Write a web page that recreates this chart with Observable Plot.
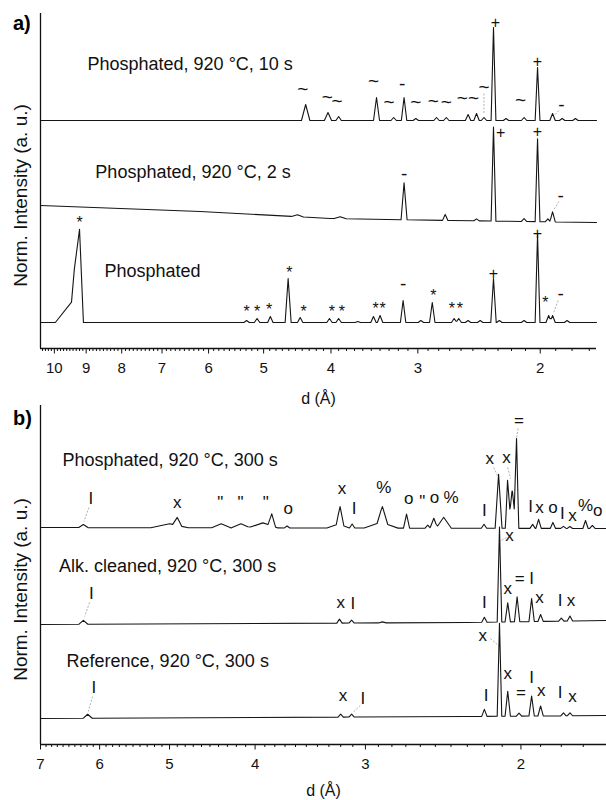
<!DOCTYPE html>
<html><head><meta charset="utf-8">
<script src="https://cdn.jsdelivr.net/npm/d3@7"></script>
<script src="https://cdn.jsdelivr.net/npm/@observablehq/plot@0.6"></script>
<style>
body{margin:0;background:#fff;}
#wrap{position:relative;width:606px;height:800px;font-family:"Liberation Sans",Arial,sans-serif;}
#pa,#pb{position:absolute;left:0;}
#pa{top:0;} #pb{top:400px;}
.tag{position:absolute;font-weight:bold;font-size:20px;line-height:20px;}
</style></head><body>
<div id="wrap"><div id="pa"></div><div id="pb"></div>
<div class="tag" style="left:13px;top:13px">a)</div>
<div class="tag" style="left:13px;top:408px">b)</div>
</div>
<script>
// ---------- axis ticks ----------
const dTicksA = [10, 9, 8, 7, 6, 5, 4, 3, 2];
const dTicksB = [7, 6, 5, 4, 3, 2];
const domainA = [10.47, 1.66];
const domainB = [7, 1.6];
const xLabel = "d (Å)";
const yLabel = "Norm. Intensity (a. u.)";

// ---------- panel a: series ----------
const namesA = ["Phosphated, 920 °C, 10 s", "Phosphated, 920 °C, 2 s", "Phosphated"];
const nameDA = [8.96, 8.73, 8.47];
const nameYA = [284, 176, 77];
// baselines [d, intensity]
const baseA1 = [[10.47, 228], [1.66, 228]];
const baseA2 = [[10.47, 143], [6.17, 137], [4.01, 130], [2.69, 128], [1.66, 126]];
const baseA3 = [[10.47, 26], [1.66, 26]];
// peaks [d, height, half width (high-d side), half width (low-d side)]
const peaksA1 = [[4.35,16,0.014],[4.04,8,0.012],[3.90,4],[3.44,23,0.01],[3.25,3],[3.14,23,0.009],[3.02,2],[2.82,3],[2.73,3],[2.54,6],[2.47,7],[2.41,3],[2.335,93,0.008],[2.24,2],[2.11,3],[2.018,53,0.008],[1.92,7],[1.86,2],[1.78,2]];
const peaksA2 = [[4.47,2,0.02],[3.88,2,0.02],[3.14,37,0.01],[2.74,6],[2.47,2],[2.335,94,0.008],[2.11,3],[2.018,83,0.008],[1.95,3],[1.92,10]];
const peaksA3 = [[9.20,83,0.027,0.013],[9.359,24,0.065,0.03],[5.29,2],[5.11,4],[4.89,6],[4.61,44,0.01],[4.43,5],[4.02,4],[3.90,4],[3.66,1],[3.475,6],[3.40,7],[3.15,22],[2.97,2],[2.86,20],[2.66,4],[2.62,4],[2.54,2],[2.44,2],[2.335,44],[2.29,2],[2.11,2],[2.018,88,0.008],[1.945,7],[1.92,7],[1.83,2]];
// phase markers [symbol, d, intensity]
const labelsA = [
 ["~",4.39,260],["~",4.05,252],["~",3.92,248],["~",3.475,268],["~",3.30,247],["-",3.16,265],["~",3.02,247],["~",2.85,248],["~",2.73,247],["~",2.59,251],["~",2.495,251],["~",2.41,262],["+",2.32,326],["~",2.135,249],["+",2.018,287],["-",1.865,244],
 ["+",2.28,216],["+",2.018,217],["-",3.14,175],["-",1.87,153],
 ["*",9.20,130],["*",5.29,41],["*",5.11,41],["*",4.91,43],["*",4.59,80],["*",4.38,41],["*",3.99,41],["*",3.86,41],["*",3.45,44],["*",3.37,44],["-",3.15,65],["*",2.85,57],["*",2.68,44],["*",2.61,44],["+",2.335,75],["+",2.018,115],["*",1.966,50],["-",1.87,55]
];
const leadersA = [[2.41,255,2.41,234],[1.88,238,1.91,233],[1.88,147,1.915,138],[1.885,48,1.915,35]];

// ---------- panel b: series ----------
const namesB = ["Phosphated, 920 °C, 300 s", "Alk. cleaned, 920 °C, 300 s", "Reference, 920 °C, 300 s"];
const nameDB = [6.61, 6.67, 6.54];
const nameYB = [284, 178, 83];
const baseB1 = [[7, 217], [1.6, 216]];
const baseB2 = [[7, 120], [2.3, 122], [1.6, 124]];
const baseB3 = [[7, 26], [2.3, 28], [1.6, 29]];
const peaksB1 = [[6.26,3,0.012],[5.0,4,0.05],[4.90,8,0.012],[4.37,4,0.025],[4.15,4,0.025],[3.92,5,0.04],[3.83,12,0.01],[3.68,2],[3.22,4,0.03],[3.205,18,0.01],[3.106,4],[2.88,6,0.045],[2.87,16,0.014],[2.695,14,0.008],[2.55,3],[2.51,10,0.01],[2.446,11,0.02],[2.202,4],[2.12,54,0.009],[2.047,30,0.016],[2.071,40,0.006],[2.045,9,0.005],[2.023,82,0.006],[1.94,4],[1.91,9],[1.84,6],[1.79,2],[1.76,2],[1.69,8],[1.66,3]];
const peaksB2 = [[6.26,4,0.012],[3.21,4],[3.11,3],[2.87,1,0.01],[2.20,5],[2.115,95,0.006],[2.07,19],[2.02,25],[1.945,23],[1.90,7],[1.80,3],[1.76,5]];
const peaksB3 = [[6.19,4,0.012],[3.20,3],[3.11,3],[2.20,7],[2.115,93,0.006],[2.07,25],[2.01,3],[1.945,20],[1.90,10],[1.79,3],[1.76,3]];
const labelsB = [
 ["I",6.14,246],["x",4.90,242],['"',4.38,246],['"',4.155,246],['"',3.89,246],["o",3.67,236],["x",3.19,256],["I",3.09,236],["%",2.86,257],["o",2.68,246],['"',2.586,247],["o",2.506,247],["%",2.40,247],["I",2.20,234],["x",2.17,286],["x",2.077,287],["=",2.01,324],["I",1.95,238],["x",1.906,237],["o",1.84,237],["I",1.795,231],["x",1.748,229],["%",1.69,239],["o",1.637,234],
 ["I",6.13,151],["x",3.20,142],["I",3.10,141],["I",2.20,142],["x",2.06,209],["x",2.07,156],["=",2.006,166],["I",1.945,166],["x",1.906,147],["I",1.806,144],["x",1.755,144],
 ["I",6.09,57],["x",3.18,49],["I",3.02,46],["I",2.19,49],["x",2.21,109],["x",2.07,71],["I",1.945,67],["=",2.00,52],["x",1.897,54],["I",1.806,52],["x",1.748,48]
];
const leadersB = [[6.17,237,6.25,223],[2.015,316,2.023,306],[2.147,277,2.124,268],[2.07,277,2.055,266],[2.077,207,2.115,203],[2.166,106,2.12,99],[3.04,39,3.10,32],[6.16,142,6.24,128],[6.11,48,6.18,33]];

// ---------- build polylines from read baselines + peaks ----------
function baseAt(base, d) {
  for (let i = 0; i < base.length - 1; i++) {
    const [d0, y0] = base[i], [d1, y1] = base[i + 1];
    if (d <= d0 && d >= d1) { const t = Math.log(d0 / d) / Math.log(d0 / d1); return y0 + t * (y1 - y0); }
  }
  return d > base[0][0] ? base[0][1] : base[base.length - 1][1];
}
function contrib(d, [pd, h, wl, wr], w0) {
  const L = wl ?? w0, R = wr ?? L;
  const t = d >= pd ? Math.log(d / pd) / Math.log(1 + L) : Math.log(pd / d) / Math.log(1 + R);
  return Math.max(0, 1 - t) * h;
}
function trace(name, base, peaks, w0) {
  const dMax = base[0][0], dMin = base[base.length - 1][0];
  const ds = new Set(base.map(b => b[0]));
  for (const [d, h, wl, wr] of peaks) { const L = wl ?? w0, R = wr ?? L; ds.add(d * (1 + L)); ds.add(d); ds.add(d / (1 + R)); }
  return [...ds].filter(d => d <= dMax && d >= dMin).sort((a, b) => b - a).map(d => ({
    name, d, y: baseAt(base, d) + d3.sum(peaks, p => contrib(d, p, w0))
  }));
}
const dataA = [...trace(namesA[0], baseA1, peaksA1, 0.009), ...trace(namesA[1], baseA2, peaksA2, 0.009), ...trace(namesA[2], baseA3, peaksA3, 0.009)];
const dataB = [...trace(namesB[0], baseB1, peaksB1, 0.007), ...trace(namesB[1], baseB2, peaksB2, 0.007), ...trace(namesB[2], baseB3, peaksB3, 0.007)];

const minorA = d3.range(17, 105).map(i => i / 10).filter(v => !Number.isInteger(v));
const minorB = d3.range(16, 70).map(i => i / 10).filter(v => !Number.isInteger(v));
const FONT = "Liberation Sans, Arial, sans-serif";
// glyph groups: [symbols, size delta, dy]
const glyphGroups = [[["*", '"'], 0, 4], [["~"], 3, 0], [["-"], 3, 0], [["+", "x", "o", "%", "=", "I"], 0, 0]];

function panel({data, domain, yMax, height, mt, mb, mr, ticks, minor, labels, leaders, names, nameD, nameY, yLabelY, labelSize, xLabelDy}) {
  return Plot.plot({
    width: 606, height, marginTop: mt, marginBottom: mb, marginLeft: 40, marginRight: mr,
    style: {background: "transparent", fontFamily: FONT, overflow: "visible"},
    x: {type: "log", domain, label: null},
    y: {domain: [0, yMax], axis: null, label: null},
    marks: [
      Plot.ruleX([domain[0]], {stroke: "#111", strokeWidth: 1.3}),
      Plot.ruleY([0], {stroke: "#111", strokeWidth: 1.3}),
      Plot.axisX(minor, {tickSize: 3, tickFormat: () => "", label: null, stroke: "#111"}),
      Plot.axisX(ticks, {tickSize: 5.5, tickFormat: () => "", label: null, stroke: "#111"}),
      Plot.text(ticks, {x: t => t, text: t => `${t}`, frameAnchor: "bottom", lineAnchor: "middle", dy: 20, fontSize: 15, fill: "#111"}),
      Plot.text([xLabel], {frameAnchor: "bottom", lineAnchor: "middle", dy: xLabelDy, fontSize: 16, fill: "#111"}),
      Plot.text([yLabel], {x: domain[0], y: yLabelY, rotate: -90, dx: -20, fontSize: 19, fill: "#111"}),
      Plot.link(leaders, {x1: l => l[0], y1: l => l[1], x2: l => l[2], y2: l => l[3], stroke: "#9a9a9a", strokeWidth: 0.8, strokeDasharray: "2,1.5"}),
      Plot.line(data, {x: "d", y: "y", z: "name", stroke: "#151515", strokeWidth: 1.1}),
      Plot.text(names, {x: (n, i) => nameD[i], y: (n, i) => nameY[i], text: n => n, textAnchor: "start", fontSize: 18, fill: "#111"}),
      ...glyphGroups.map(([syms, ds, dy]) => Plot.text(labels.filter(l => syms.includes(l[0])), {x: l => l[1], y: l => l[2], text: l => l[0], fontSize: labelSize + ds, dy, fill: "#111"}))
    ]
  });
}

document.getElementById("pa").append(panel({
  data: dataA, domain: domainA, yMax: 335, height: 412, mt: 13, mb: 64, mr: 10,
  ticks: dTicksA, minor: minorA, labels: labelsA, leaders: leadersA,
  names: namesA, nameD: nameDA, nameY: nameYA, yLabelY: 153, labelSize: 16, xLabelDy: 50
}));
document.getElementById("pb").append(panel({
  data: dataB, domain: domainB, yMax: 339, height: 400, mt: 5, mb: 56, mr: 0,
  ticks: dTicksB, minor: minorB, labels: labelsB, leaders: leadersB,
  names: namesB, nameD: nameDB, nameY: nameYB, yLabelY: 155, labelSize: 17, xLabelDy: 46
}));
</script>
</body></html>
